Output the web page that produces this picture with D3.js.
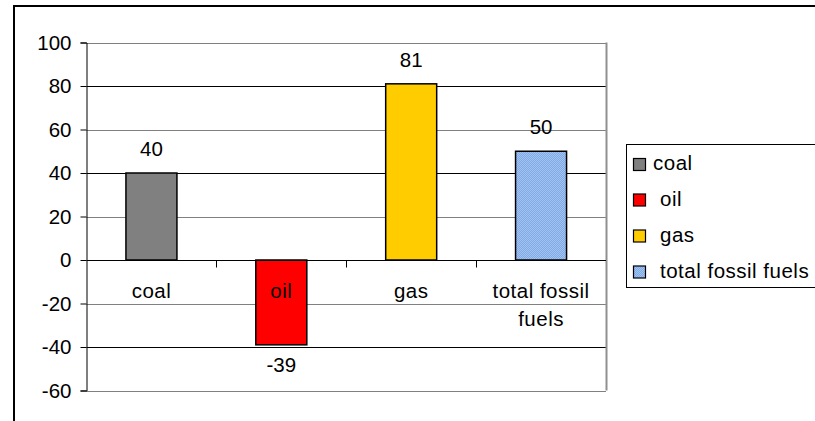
<!DOCTYPE html>
<html>
<head>
<meta charset="utf-8">
<script src="https://cdn.jsdelivr.net/npm/d3@7"></script>
<style>
  html, body { margin: 0; padding: 0; background: #fff; }
  svg { display: block; }
  text { font-family: "Liberation Sans", Arial, sans-serif; fill: #000; }
</style>
</head>
<body>
<svg id="chart" width="815" height="421"></svg>
<script>
// Change by fuel type
const categories = ["coal", "oil", "gas", "total fossil fuels"];
const categoryLines = [["coal"], ["oil"], ["gas"], ["total fossil", "fuels"]];
const values = [40, -39, 81, 50];
const colors = ["#808080", "#ff0000", "#ffcc00", "url(#dots)"];
const yTicks = [100, 80, 60, 40, 20, 0, -20, -40, -60];

const FONT = 20.5;
const svg = d3.select("#chart");

// dithered blue fill
const defs = svg.append("defs");
const pat = defs.append("pattern")
  .attr("id", "dots").attr("width", 2).attr("height", 2)
  .attr("patternUnits", "userSpaceOnUse");
pat.append("rect").attr("width", 2).attr("height", 2).attr("fill", "#80aae6");
pat.append("rect").attr("width", 1).attr("height", 1).attr("fill", "#a3c3f0");
pat.append("rect").attr("x", 1).attr("y", 1).attr("width", 1).attr("height", 1).attr("fill", "#a3c3f0");

// outer frame
svg.append("path")
  .attr("d", "M14,421 V6 H815")
  .attr("fill", "none").attr("stroke", "#000").attr("stroke-width", 2);

const plot = { left: 86.5, right: 606, top: 42.5, bottom: 390.5 };

const y = d3.scaleLinear().domain([-60, 100]).range([plot.bottom, plot.top]);
const x = d3.scaleBand().domain(categories).range([plot.left, plot.right]).paddingInner(0).paddingOuter(0);

// gridlines
const grid = svg.append("g");
yTicks.forEach((t, i) => {
  if (t === 0) return;
  grid.append("line")
    .attr("x1", plot.left).attr("x2", plot.right)
    .attr("y1", Math.round(y(t)) + 0.5).attr("y2", Math.round(y(t)) + 0.5)
    .attr("stroke", i % 2 === 0 ? "#808080" : "#000")
    .attr("stroke-width", 1);
});

// plot border (right)
svg.append("line")
  .attr("x1", plot.right + 0.5).attr("x2", plot.right + 0.5)
  .attr("y1", plot.top).attr("y2", plot.bottom)
  .attr("stroke", "#909090").attr("stroke-width", 2);

// y axis (plain hyphen for negatives)
const yAxis = d3.axisLeft(y).tickValues(yTicks).tickSize(6).tickPadding(9).tickFormat(d => String(d));
const gy = svg.append("g").attr("transform", `translate(${plot.left},0)`).call(yAxis);
gy.select(".domain").attr("stroke", "#000");
gy.selectAll(".tick line").attr("stroke", "#000");
gy.selectAll(".tick text").attr("font-size", FONT).attr("font-family", '"Liberation Sans", Arial, sans-serif');

// bars
const barW = 51;
svg.append("g").selectAll("rect")
  .data(values)
  .join("rect")
  .attr("x", (d, i) => x(categories[i]) + (x.bandwidth() - barW) / 2)
  .attr("y", d => y(Math.max(0, d)))
  .attr("width", barW)
  .attr("height", d => Math.abs(y(d) - y(0)))
  .attr("fill", (d, i) => colors[i])
  .attr("stroke", "#000").attr("stroke-width", 1.5);

// zero line with category ticks
const zeroY = Math.round(y(0)) + 0.5;
const gx = svg.append("g");
gx.append("line")
  .attr("x1", plot.left).attr("x2", plot.right)
  .attr("y1", zeroY).attr("y2", zeroY)
  .attr("stroke", "#000");
categories.slice(1).forEach(c => {
  gx.append("line")
    .attr("x1", Math.round(x(c)) + 0.5).attr("x2", Math.round(x(c)) + 0.5)
    .attr("y1", zeroY).attr("y2", zeroY + 7)
    .attr("stroke", "#000");
});

// category labels
categoryLines.forEach((lines, i) => {
  const cx = x(categories[i]) + x.bandwidth() / 2;
  const t = gx.append("text")
    .attr("text-anchor", "middle").attr("font-size", FONT)
    .attr("letter-spacing", 0.5);
  lines.forEach((ln, j) => {
    t.append("tspan").attr("x", cx).attr("y", 297.5 + j * 28).text(ln);
  });
});

// value labels
svg.append("g").selectAll("text")
  .data(values)
  .join("text")
  .attr("x", (d, i) => x(categories[i]) + x.bandwidth() / 2)
  .attr("y", d => d >= 0 ? y(d) - 17 : y(d) + 27)
  .attr("text-anchor", "middle").attr("font-size", FONT)
  .text(d => String(d));

// legend
const lg = svg.append("g");
lg.append("rect")
  .attr("x", 626.5).attr("y", 144.5).attr("width", 200).attr("height", 143)
  .attr("fill", "#fff").attr("stroke", "#000").attr("stroke-width", 1);
const legendY = [164.5, 200, 236, 272];
categories.forEach((c, i) => {
  lg.append("rect")
    .attr("x", 633.5).attr("y", legendY[i] - 6).attr("width", 12).attr("height", 12)
    .attr("fill", colors[i]).attr("stroke", "#000").attr("stroke-width", 1.2);
  lg.append("text")
    .attr("x", i === 0 ? 653 : 660).attr("y", legendY[i] + 5.5)
    .attr("font-size", FONT).attr("letter-spacing", 0.5)
    .text(c);
});
</script>
</body>
</html>
